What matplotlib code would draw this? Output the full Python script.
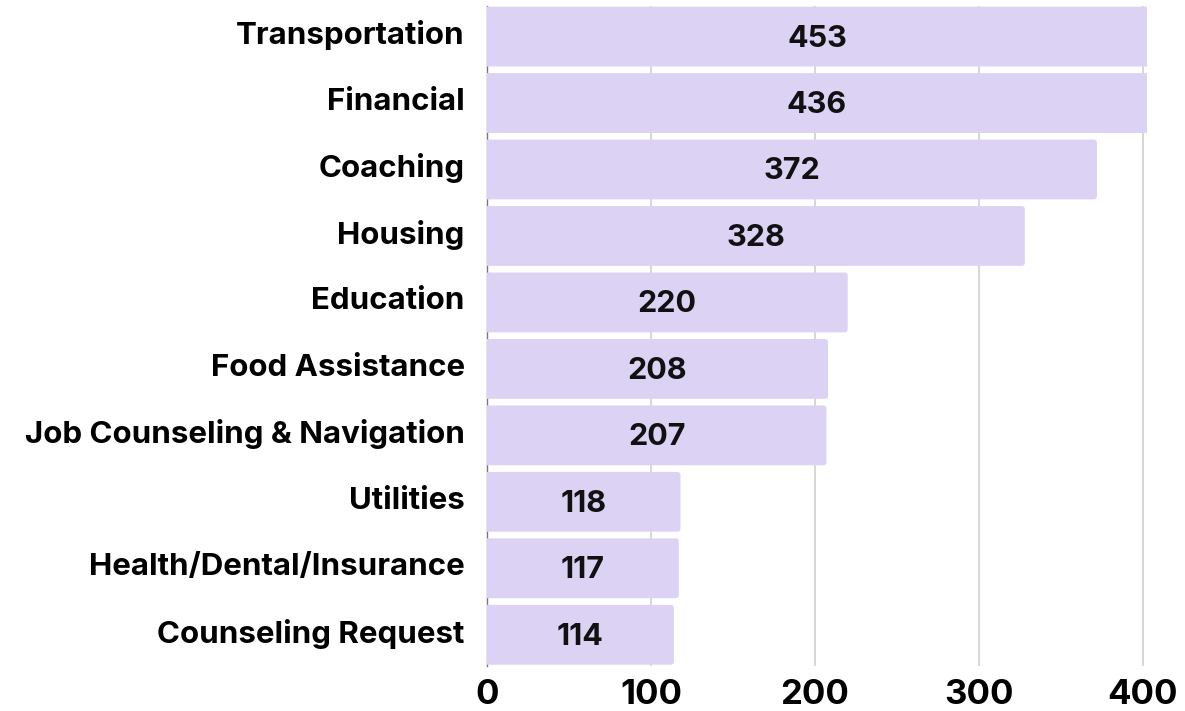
import matplotlib
matplotlib.use("Agg")
import matplotlib.pyplot as plt
from matplotlib.patches import FancyBboxPatch
from matplotlib.transforms import ScaledTranslation

# data
categories = ["Transportation", "Financial", "Coaching", "Housing", "Education",
              "Food Assistance", "Job Counseling & Navigation", "Utilities",
              "Health/Dental/Insurance", "Counseling Request"]
counts = [453, 436, 372, 328, 220, 208, 207, 118, 117, 114]
xticks = [0, 100, 200, 300, 400]

bar_color = "#DCD3F4"
font = ["Inter", "DejaVu Sans"]

fig = plt.figure(figsize=(11.85, 7.11), dpi=100)
ax = fig.add_axes([487 / 1185, 1 - 666 / 711, 660 / 1185, 660 / 711])

xmax = 402.5
ax.set_xlim(0, xmax)
ax.set_ylim(9.47, -0.46)

# rounded bars; start left of 0 so only the right corners show as rounded
bar_h = 0.9
for i, v in enumerate(counts):
    patch = FancyBboxPatch((-10, i - bar_h / 2), v + 10, bar_h,
                           boxstyle="round,pad=0,rounding_size=2",
                           mutation_aspect=0.025,
                           facecolor=bar_color, edgecolor="none", zorder=2)
    ax.add_patch(patch)
    # value label centred in the visible part of the bar
    xc = min(v, xmax) / 2
    ax.text(xc, i + 0.03, str(v), ha="center", va="center", fontsize=22,
            fontweight="bold", family=font, color="#111111", zorder=3)

ax.set_yticks(range(len(categories)))
ax.set_yticklabels(categories, fontsize=22.5, fontweight="bold", family=font)
ax.tick_params(axis="y", length=0, pad=16)
# nudge the category labels up a little
shift = ScaledTranslation(0, 3 / 72, fig.dpi_scale_trans)
for lab in ax.get_yticklabels():
    lab.set_transform(lab.get_transform() + shift)

ax.set_xticks(xticks)
ax.set_xticklabels([str(t) for t in xticks], fontsize=25, fontweight="bold",
                   family=font)
ax.tick_params(axis="x", length=0, pad=9)

for t in xticks[1:]:
    ax.axvline(t, color="#d0d0d0", lw=1.2, zorder=1)

for s in ["top", "right", "bottom"]:
    ax.spines[s].set_visible(False)
ax.spines["left"].set_color("#777777")
ax.spines["left"].set_linewidth(1)
ax.spines["left"].set_zorder(1)

fig.savefig("out.png", dpi=100)
